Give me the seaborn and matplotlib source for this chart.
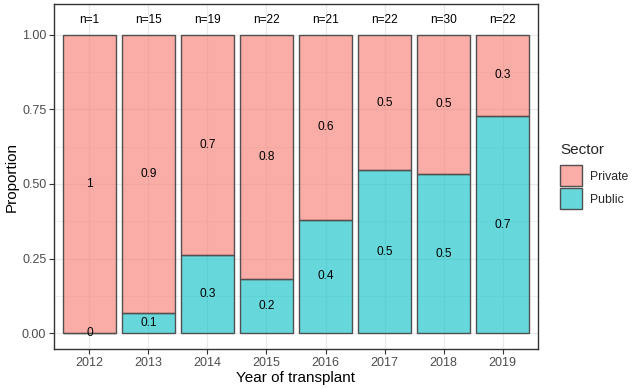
import matplotlib
matplotlib.use("Agg")
import matplotlib.pyplot as plt
import seaborn as sns
import numpy as np
import pandas as pd
from matplotlib.patches import Patch
from matplotlib.colors import to_rgba

years = ["2012", "2013", "2014", "2015", "2016", "2017", "2018", "2019"]
n_total = [1, 15, 19, 22, 21, 22, 30, 22]
n_public = [0, 1, 5, 4, 8, 12, 16, 16]
sectors = ["Private", "Public"]
sector_colors = {"Private": "#F8766D", "Public": "#00BFC4"}

public_prop = np.array(n_public) / np.array(n_total)
private_prop = 1 - public_prop
df = pd.DataFrame({"year": years, "Public": public_prop, "Private": private_prop, "n": n_total})

sns.set_theme(style="white")
plt.rcParams["font.family"] = ["Liberation Sans", "DejaVu Sans"]

fig = plt.figure(figsize=(6.33, 3.89), dpi=100)
ax = fig.add_axes([54 / 633, 1 - 349 / 389, (538 - 54) / 633, (349 - 4) / 389])

edge = "#505050"
sns.barplot(data=df, x="year", y="Public", order=years, color=sector_colors["Public"],
            saturation=1, width=0.9, edgecolor=edge, linewidth=1.0, ax=ax, zorder=2)
sns.barplot(data=df, x="year", y="Private", order=years, color=sector_colors["Private"],
            saturation=1, width=0.9, bottom=df["Public"].to_numpy(), edgecolor=edge,
            linewidth=1.0, ax=ax, zorder=2)
for p in ax.patches:
    fc = p.get_facecolor()
    p.set_facecolor(to_rgba(fc[:3], 0.6))

# labels
for i, yr in enumerate(years):
    pub = df["Public"].iloc[i]
    pri = df["Private"].iloc[i]
    ax.text(i, pub / 2, f"{round(pub, 1):g}", ha="center", va="center", fontsize=8.6, color="black", zorder=3)
    ax.text(i, pub + pri / 2, f"{round(pri, 1):g}", ha="center", va="center", fontsize=8.6, color="black", zorder=3)
    ax.text(i, 1.05, f"n={df['n'].iloc[i]}", ha="center", va="center", fontsize=8.6, color="black", zorder=3)

ax.set_xlim(-0.6, 7.6)
ax.set_ylim(-0.0525, 1.1025)
ax.set_yticks([0, 0.25, 0.5, 0.75, 1.0])
ax.set_yticklabels(["0.00", "0.25", "0.50", "0.75", "1.00"])
ax.set_yticks([0.125, 0.375, 0.625, 0.875], minor=True)
ax.grid(True, which="major", color="#EBEBEB", linewidth=0.9, zorder=0)
ax.grid(True, which="minor", axis="y", color="#EBEBEB", linewidth=0.5, zorder=0)
ax.set_axisbelow(True)
for s in ax.spines.values():
    s.set_color("#333333")
    s.set_linewidth(1.0)
    s.set_visible(True)
ax.tick_params(axis="both", which="major", length=3.5, width=0.8, color="#333333",
               labelsize=9, labelcolor="#4D4D4D", pad=2, bottom=True, left=True)
ax.tick_params(axis="both", which="minor", length=0)
ax.set_xlabel("Year of transplant", fontsize=11, color="black", labelpad=2)
ax.set_ylabel("Proportion", fontsize=11, color="black", labelpad=2.5)

handles = [Patch(facecolor=to_rgba(sector_colors[s], 0.6), edgecolor=edge, linewidth=1.0, label=s)
           for s in sectors]
leg = fig.legend(handles=handles, title="Sector", loc="upper left",
                 bbox_to_anchor=(558 / 633, 1 - 141 / 389), frameon=False,
                 fontsize=8.8, title_fontsize=11, handlelength=1.8, handleheight=2.3,
                 labelspacing=0.15, handletextpad=0.6, borderaxespad=0, borderpad=0.2)
leg._legend_box.align = "left"
leg._legend_box.sep = 5.5

fig.savefig("out.png", dpi=100)
